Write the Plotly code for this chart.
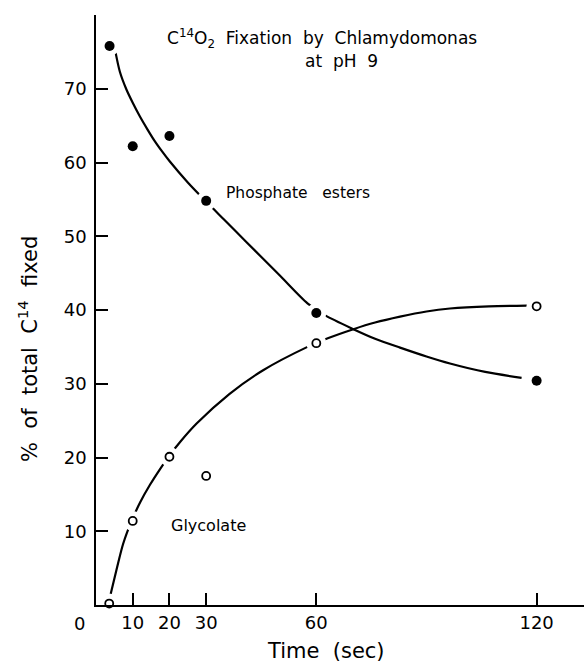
import plotly.graph_objects as go

# Measured data points
time_phos = [3.7, 10, 20, 30, 60, 120]
phosphate = [75.8, 62.2, 63.6, 54.8, 39.6, 30.4]
time_gly = [3.6, 10, 20, 30, 60, 120]
glycolate = [0.2, 11.4, 20.1, 17.5, 35.5, 40.5]

# Hand-drawn fitted curves
curve_phos_x = [5.3, 6.5, 8.2, 10, 12, 14, 16, 18, 20, 25, 30, 35, 40.8, 50, 57.6,
                62.3, 70.1, 76, 82.8, 90, 96.4, 106, 115.9]
curve_phos_y = [75.0, 72.3, 70.0, 68.1, 66.2, 64.5, 62.9, 61.5, 60.2, 57.3, 54.7, 52.2, 49.3, 44.7, 40.9,
                39.3, 37.4, 36.1, 34.9, 33.7, 32.75, 31.6, 30.8]
curve_gly_x = [3.8, 5.6, 7.4, 9.7, 12, 14.7, 17.4, 19.9, 22.9, 27.4, 36.3, 45.4, 57.6,
               63.3, 70.1, 76, 82.8, 90, 96.4, 107, 117.3]
curve_gly_y = [1.1, 4.8, 8.3, 11.4, 13.9, 16.3, 18.4, 20.2, 22.1, 24.6, 28.6, 31.8, 35.0,
               36.2, 37.4, 38.3, 39.1, 39.8, 40.2, 40.5, 40.6]

x_ticks = [10, 20, 30, 60, 120]
y_ticks = [10, 20, 30, 40, 50, 60, 70]

FONT = "DejaVu Sans"
SP = "\u00a0"

fig = go.Figure()
fig.add_trace(go.Scatter(x=curve_phos_x, y=curve_phos_y, mode="lines",
                         line=dict(color="black", width=2.2, shape="spline", smoothing=0.8),
                         hoverinfo="skip", showlegend=False))
fig.add_trace(go.Scatter(x=curve_gly_x, y=curve_gly_y, mode="lines",
                         line=dict(color="black", width=2.2, shape="spline", smoothing=0.8),
                         hoverinfo="skip", showlegend=False))
# white halos to break the curves around the points
fig.add_trace(go.Scatter(x=time_phos + time_gly, y=phosphate + glycolate, mode="markers",
                         marker=dict(color="white", size=20, line=dict(width=0)),
                         hoverinfo="skip", showlegend=False, cliponaxis=False))
fig.add_trace(go.Scatter(x=time_phos, y=phosphate, mode="markers", name="Phosphate esters",
                         marker=dict(color="black", size=10, symbol="circle"),
                         showlegend=False, cliponaxis=False))
fig.add_trace(go.Scatter(x=time_gly, y=glycolate, mode="markers", name="Glycolate",
                         marker=dict(color="white", size=8, symbol="circle",
                                     line=dict(color="black", width=1.8)),
                         showlegend=False, cliponaxis=False))

fig.update_layout(
    width=584, height=663,
    margin=dict(l=96, r=0, t=15, b=58),
    paper_bgcolor="white", plot_bgcolor="white",
    font=dict(family=FONT, color="black", size=18),
    xaxis=dict(range=[0, 132.9], tickvals=x_ticks, ticktext=[str(v) for v in x_ticks],
               ticks="inside", ticklen=12, tickwidth=1.5, tickcolor="black",
               showline=True, linewidth=2.2, linecolor="black",
               showgrid=False, zeroline=False, ticklabelstandoff=0, automargin=False,
               tickfont=dict(size=18)),
    yaxis=dict(range=[0, 80], tickvals=y_ticks, ticktext=[str(v) for v in y_ticks],
               ticks="inside", ticklen=12, tickwidth=1.5, tickcolor="black",
               showline=True, linewidth=1.5, linecolor="black",
               showgrid=False, zeroline=False, ticklabelstandoff=4, automargin=False,
               tickfont=dict(size=18)),
    showlegend=False,
)

def px_x(p):
    return (p - 96) / 488.0

def px_y(p):
    return (605 - p) / 590.0

ann = [
    dict(text="C<sup>14</sup>O<sub>2</sub>" + SP * 2 + "Fixation" + SP * 2 + "by" + SP * 2 + "Chlamydomonas",
         x=px_x(165), y=px_y(38), xanchor="left", yanchor="middle", font=dict(size=17)),
    dict(text="at" + SP * 2 + "pH" + SP * 2 + "9", x=px_x(303), y=px_y(61),
         xanchor="left", yanchor="middle", font=dict(size=17)),
    dict(text="Phosphate" + SP * 3 + "esters", x=px_x(224), y=px_y(193),
         xanchor="left", yanchor="middle", font=dict(size=15.5)),
    dict(text="Glycolate", x=px_x(169), y=px_y(525), xanchor="left", yanchor="middle",
         font=dict(size=16)),
    dict(text="Time" + SP * 2 + "(sec)", x=px_x(326), y=px_y(651), xanchor="center",
         yanchor="middle", font=dict(size=21)),
    dict(text="%" + SP * 2 + "of" + SP * 2 + "total" + SP * 2 + "C<sup>14</sup>" + SP * 2 + "fixed",
         x=px_x(28), y=px_y(349), textangle=-90,
         xanchor="center", yanchor="middle", font=dict(size=21)),
    dict(text="0", x=px_x(79), y=px_y(623), xanchor="center", yanchor="middle",
         font=dict(size=18)),
]
for a in ann:
    a.update(xref="paper", yref="paper", showarrow=False)
fig.update_layout(annotations=ann)

fig.write_html("out.html", config={"displayModeBar": False},
               post_script="document.body.style.margin='0';document.body.style.overflow='hidden';")
